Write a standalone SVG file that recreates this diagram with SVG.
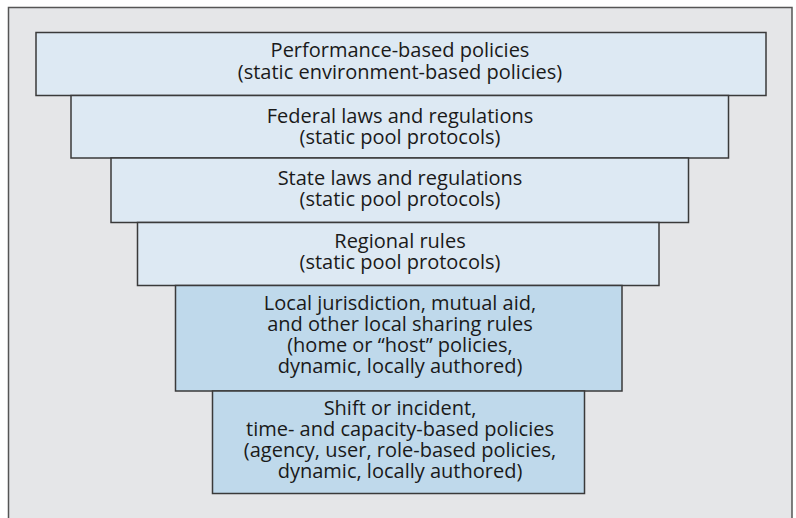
<svg xmlns="http://www.w3.org/2000/svg" width="796" height="518" viewBox="0 0 796 518">
  <style>
    .frame { fill: #e5e6e8; stroke: #555; stroke-width: 1.5; }
    .tier { stroke: #3a3a3a; stroke-width: 1.5; }
    .static { fill: #dde9f3; }
    .dynamic { fill: #bfd9eb; }
    text { font-family: "Open Sans", "Liberation Sans", sans-serif; font-size: 20px; fill: #1a1a1a; text-anchor: middle; }
  </style>

  <!-- background panel (open at the bottom) -->
  <rect class="frame" x="8.5" y="7.5" width="783.5" height="530"/>

  <!-- policy tiers, widest on top -->
  <g id="tier-performance">
    <rect class="tier static" x="36" y="32.5" width="730" height="63"/>
    <text x="400" y="57">Performance-based policies</text>
    <text x="400" y="78.5">(static environment-based policies)</text>
  </g>

  <g id="tier-federal">
    <rect class="tier static" x="71" y="95.5" width="657.5" height="62.5"/>
    <text x="400" y="123">Federal laws and regulations</text>
    <text x="400" y="144">(static pool protocols)</text>
  </g>

  <g id="tier-state">
    <rect class="tier static" x="111" y="158" width="577.5" height="64.5"/>
    <text x="400" y="185">State laws and regulations</text>
    <text x="400" y="206">(static pool protocols)</text>
  </g>

  <g id="tier-regional">
    <rect class="tier static" x="137.5" y="222.5" width="521.5" height="63"/>
    <text x="400" y="248">Regional rules</text>
    <text x="400" y="269">(static pool protocols)</text>
  </g>

  <g id="tier-local">
    <rect class="tier dynamic" x="175.5" y="285.5" width="446.5" height="105.5"/>
    <text x="400" y="310">Local jurisdiction, mutual aid,</text>
    <text x="400" y="331">and other local sharing rules</text>
    <text x="400" y="352">(home or “host” policies,</text>
    <text x="400" y="373">dynamic, locally authored)</text>
  </g>

  <g id="tier-shift">
    <rect class="tier dynamic" x="212.5" y="391" width="372" height="102.5"/>
    <text x="400" y="415">Shift or incident,</text>
    <text x="400" y="436">time- and capacity-based policies</text>
    <text x="400" y="457">(agency, user, role-based policies,</text>
    <text x="400" y="478">dynamic, locally authored)</text>
  </g>
</svg>
